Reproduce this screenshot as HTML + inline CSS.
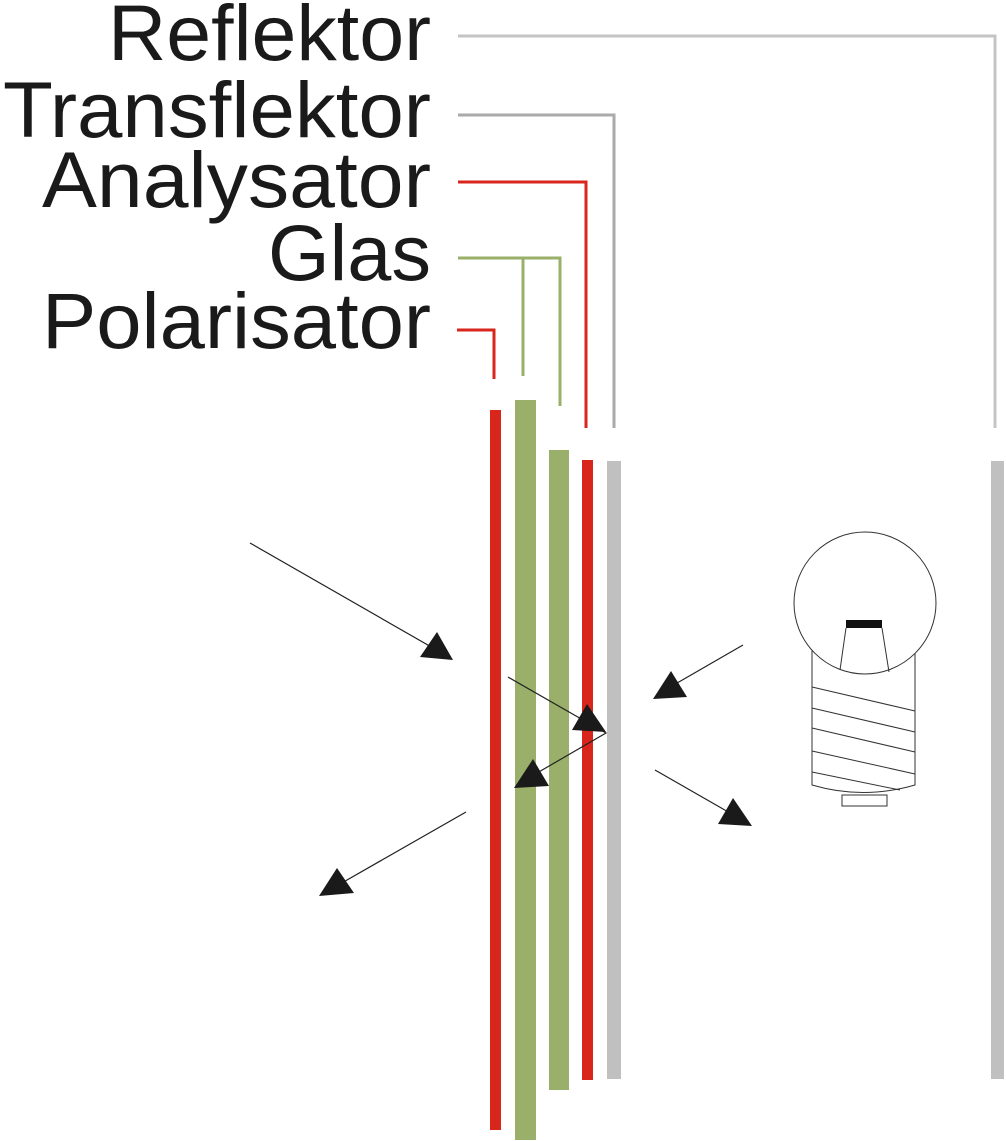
<!DOCTYPE html>
<html><head><meta charset="utf-8"><style>html,body{margin:0;padding:0;background:#fff}svg{display:block}</style></head>
<body>
<svg width="1006" height="1141" viewBox="0 0 1006 1141" xmlns="http://www.w3.org/2000/svg">
<g font-family="Liberation Sans, sans-serif" font-size="79" fill="#1a1a1a" text-anchor="end">
<text x="431" y="60" textLength="323" lengthAdjust="spacingAndGlyphs">Reflektor</text>
<text x="431" y="137" textLength="428" lengthAdjust="spacingAndGlyphs">Transflektor</text>
<text x="431" y="207" textLength="389" lengthAdjust="spacingAndGlyphs">Analysator</text>
<text x="431" y="280" textLength="163" lengthAdjust="spacingAndGlyphs">Glas</text>
<text x="431" y="348" textLength="389" lengthAdjust="spacingAndGlyphs">Polarisator</text>
</g>
<g fill="none" stroke-width="3">
<polyline points="458,36 995,36 995,428" stroke="#c4c4c4"/>
<polyline points="458,115 614,115 614,428" stroke="#aaaaaa"/>
<polyline points="458,182 586,182 586,428" stroke="#d9261c"/>
<polyline points="458,258 560,258 560,406" stroke="#9ab06a"/>
<line x1="523" y1="258" x2="523" y2="376" stroke="#9ab06a"/>
<polyline points="457,330 494,330 494,379" stroke="#d9261c"/>
</g>
<rect x="490" y="410" width="11" height="720" fill="#d9261c"/>
<rect x="515" y="400" width="21" height="740" fill="#9ab06a"/>
<rect x="549" y="450" width="20" height="640" fill="#9ab06a"/>
<rect x="582" y="460" width="11" height="620" fill="#d9261c"/>
<rect x="607" y="461" width="14" height="618" fill="#c0c0c0"/>
<rect x="991" y="461" width="13" height="618" fill="#c0c0c0"/>
<g stroke="#222" stroke-width="1.2" fill="none">
<line x1="250" y1="543" x2="440" y2="652"/>
<line x1="508" y1="677" x2="590" y2="724"/>
<polyline points="590,724 606,733 525,780"/>
<line x1="743" y1="645" x2="665" y2="690"/>
<line x1="655" y1="770" x2="730" y2="813"/>
<line x1="466" y1="812" x2="340" y2="884"/>
</g>
<g fill="#1a1a1a">
<polygon points="437,632 420,657 453,660"/>
<polygon points="587,704 572,730 606,732"/>
<polygon points="533,759 514,788 549,786"/>
<polygon points="671,671 653,699 687,697"/>
<polygon points="733,798 718,824 752,826"/>
<polygon points="337,868 319,896 354,893"/>
</g>
<g stroke="#333" stroke-width="1" fill="#fff">
<path d="M812,650 L812,785 Q863,800 915,785 L915,650"/>
<circle cx="865" cy="603" r="71"/>
<line x1="846" y1="628" x2="840" y2="670"/>
<line x1="882" y1="628" x2="889" y2="672"/>
<line x1="812" y1="687" x2="915" y2="711"/>
<line x1="812" y1="708" x2="915" y2="732"/>
<line x1="812" y1="728" x2="915" y2="752"/>
<line x1="812" y1="751" x2="915" y2="774"/>
<line x1="812" y1="772" x2="900" y2="790"/>
<rect x="842" y="795" width="45" height="11"/>
</g>
<rect x="846" y="620" width="36" height="8" fill="#111"/>
</svg>
</body></html>
